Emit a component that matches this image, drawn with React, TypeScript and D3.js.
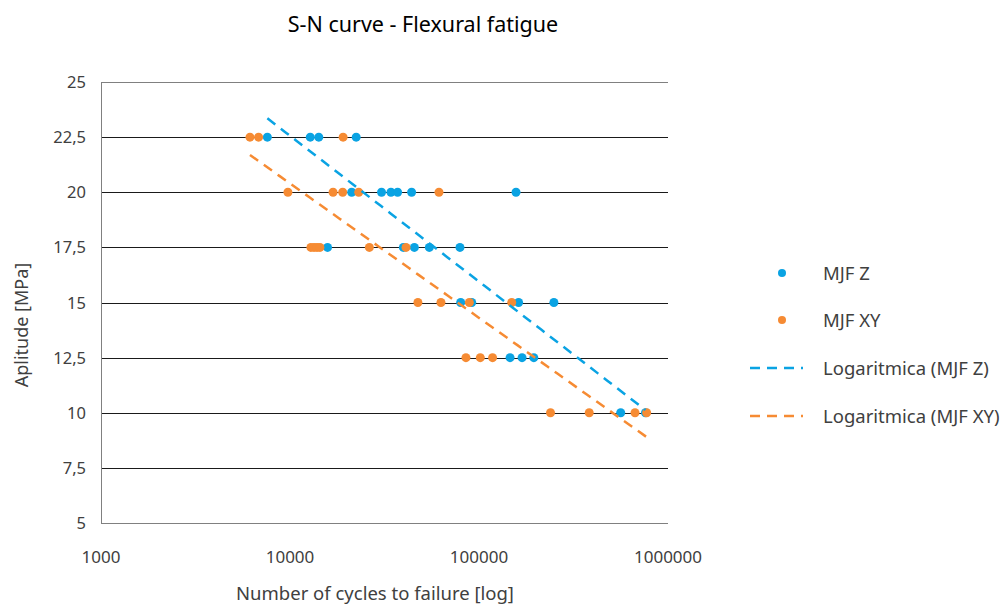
import React from "react";
import * as d3 from "d3";

// ---- data ----
const zCycles = [7590, 12800, 14200, 22400, 21200, 30500, 34200, 37100, 44000, 157000, 15800, 39800, 45500, 54600, 79300, 80000, 91500, 162000, 249000, 146000, 169000, 195000, 562000, 760000];
const zAmps = [22.5, 22.5, 22.5, 22.5, 20, 20, 20, 20, 20, 20, 17.5, 17.5, 17.5, 17.5, 17.5, 15, 15, 15, 15, 12.5, 12.5, 12.5, 10, 10];
const xyCycles = [6140, 6820, 19100, 9750, 16900, 19000, 23100, 61400, 12900, 13400, 13900, 14400, 26300, 41100, 47500, 62900, 88900, 149000, 85300, 101600, 118000, 239000, 383000, 669000, 771000];
const xyAmps = [22.5, 22.5, 22.5, 20, 20, 20, 20, 20, 17.5, 17.5, 17.5, 17.5, 17.5, 17.5, 15, 15, 15, 15, 12.5, 12.5, 12.5, 10, 10, 10, 10];
const xTicks = [1000, 10000, 100000, 1000000];
const yTicks = [5, 7.5, 10, 12.5, 15, 17.5, 20, 22.5, 25];
const seriesNames = ["MJF Z", "MJF XY"];
const trendNames = ["Logaritmica (MJF Z)", "Logaritmica (MJF XY)"];
const colors = ["#0aa3e3", "#f68b33"];

const W = 1008, H = 605;
const FONT = "'Noto Sans', 'Open Sans', sans-serif";

function logFit(xs: number[], ys: number[]) {
  const lx = xs.map(Math.log);
  const mx = d3.mean(lx)!, my = d3.mean(ys)!;
  let sxy = 0, sxx = 0;
  lx.forEach((v, i) => { sxy += (v - mx) * (ys[i] - my); sxx += (v - mx) ** 2; });
  const a = sxy / sxx, b = my - a * mx;
  return (x: number) => a * Math.log(x) + b;
}

export default function App() {
  const x = d3.scaleLog().domain([1000, 1000000]).range([101, 668]);
  const y = d3.scaleLinear().domain([5, 25]).range([523, 82]);
  const fmt = (v: number) => String(v).replace(".", ",");
  const series = [
    { c: zCycles, a: zAmps },
    { c: xyCycles, a: xyAmps },
  ];
  const trends = series.map((s) => {
    const f = logFit(s.c, s.a);
    const [lo, hi] = d3.extent(s.c) as [number, number];
    const pts = d3.range(0, 41).map((i) => {
      const v = Math.exp(Math.log(lo) + (Math.log(hi) - Math.log(lo)) * i / 40);
      return [x(v), y(f(v))] as [number, number];
    });
    return d3.line()(pts)!;
  });
  const legendY = [273, 320, 368, 416];
  return (
    <svg width={W} height={H} style={{ position: "absolute", left: 0, top: 0, background: "#fff" }} fontFamily={FONT}>
      <text x={423} y={32} textAnchor="middle" fontSize={21.5} fill="#000">S-N curve - Flexural fatigue</text>
      {/* gridlines */}
      {yTicks.filter((t) => t !== 5 && t !== 25).map((t) => (
        <line key={t} x1={101} x2={668} y1={Math.round(y(t)) + 0.5} y2={Math.round(y(t)) + 0.5} stroke="#1a1a1a" strokeWidth={1} />
      ))}
      {/* border */}
      <line x1={101} x2={668} y1={Math.round(y(25)) + 0.5} y2={Math.round(y(25)) + 0.5} stroke="#808080" />
      <line x1={101} x2={668} y1={Math.round(y(5)) + 0.5} y2={Math.round(y(5)) + 0.5} stroke="#808080" />
      <line x1={101.5} x2={101.5} y1={y(25)} y2={y(5)} stroke="#808080" />
      {/* y ticks */}
      {yTicks.map((t) => (
        <text key={t} x={86} y={y(t) + 6} textAnchor="end" fontSize={16.5} fill="#404040">{fmt(t)}</text>
      ))}
      {xTicks.map((t) => (
        <text key={t} x={x(t)} y={563} textAnchor="middle" fontSize={17} fill="#404040">{t}</text>
      ))}
      <text x={375} y={600} textAnchor="middle" fontSize={18.5} fill="#404040">Number of cycles to failure [log]</text>
      <text transform={`translate(28,${325}) rotate(-90)`} textAnchor="middle" fontSize={18} fill="#404040">Aplitude [MPa]</text>
      {/* points */}
      {series.map((s, si) => (
        <g key={si}>
          {s.c.map((c, i) => (
            <circle key={i} cx={x(c)} cy={y(s.a[i])} r={4.5} fill={colors[si]} />
          ))}
        </g>
      ))}
      {/* trendlines */}
      {trends.map((d, i) => (
        <path key={i} d={d} fill="none" stroke={colors[i]} strokeWidth={2.5} strokeDasharray="10,7" />
      ))}
      {/* legend */}
      {seriesNames.map((n, i) => (
        <g key={n}>
          <circle cx={782} cy={legendY[i]} r={4} fill={colors[i]} />
          <text x={823} y={legendY[i] + 6.5} fontSize={18.5} fill="#404040">{n}</text>
        </g>
      ))}
      {trendNames.map((n, i) => (
        <g key={n}>
          <line x1={750} x2={803} y1={legendY[i + 2]} y2={legendY[i + 2]} stroke={colors[i]} strokeWidth={2.5} strokeDasharray="10,7" />
          <text x={823} y={legendY[i + 2] + 6.5} fontSize={18.5} fill="#404040">{n}</text>
        </g>
      ))}
    </svg>
  );
}
